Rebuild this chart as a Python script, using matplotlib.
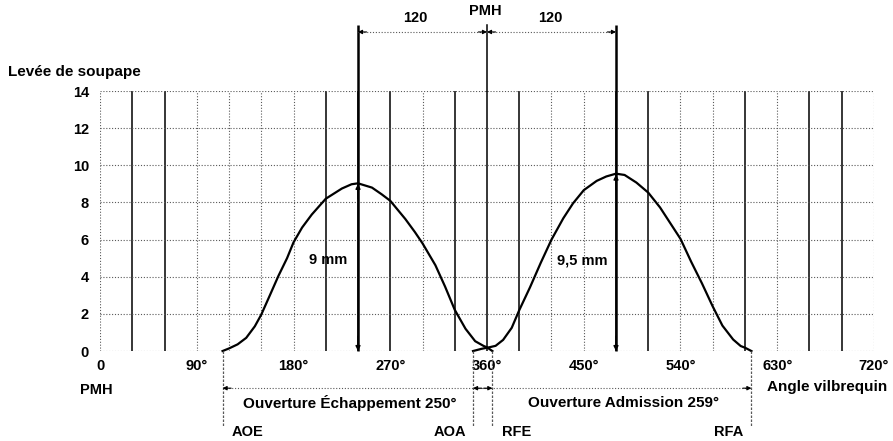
import matplotlib.pyplot as plt
import numpy as np

plt.rcParams["font.family"] = ["Liberation Sans", "DejaVu Sans"]

# lift curves (crank angle in degrees, lift in mm)
exhaust_angle = [114, 120, 128, 136, 144, 150, 158, 166, 174, 180, 188, 197, 210, 225, 234, 240,
                 253, 262, 270, 284, 293, 300, 312, 321, 330, 340, 349, 357, 360, 365]
exhaust_lift = [0, 0.14, 0.36, 0.71, 1.33, 1.96, 3.0, 4.05, 5.0, 5.85, 6.65, 7.35, 8.2, 8.75, 8.98, 9.03,
                8.8, 8.44, 8.09, 7.11, 6.4, 5.8, 4.62, 3.47, 2.22, 1.2, 0.53, 0.27, 0.2, 0]
intake_angle = [347, 355, 362, 368, 375, 383, 390, 400, 410, 420, 431, 440, 450, 462, 471, 480,
                488, 499, 510, 521, 530, 540, 550, 560, 570, 579, 589, 596, 600, 606]
intake_lift = [0, 0.12, 0.2, 0.28, 0.6, 1.25, 2.2, 3.43, 4.75, 6.0, 7.15, 7.95, 8.66, 9.16, 9.4, 9.55,
               9.48, 9.07, 8.53, 7.73, 6.93, 6.04, 4.8, 3.64, 2.4, 1.37, 0.62, 0.27, 0.18, 0]

# timing events
event_names = ["AOE", "AOA", "RFE", "RFA"]
event_angles = [114, 347, 365, 606]
peak_angles = [240, 480]
peak_lifts = [9, 9.5]
peak_labels = ["9 mm", "9,5 mm"]
opening_labels = ["Ouverture Échappement 250°", "Ouverture Admission 259°"]

x_ticks = [0, 90, 180, 270, 360, 450, 540, 630, 720]
x_tick_labels = ["0", "90°", "180°", "270°", "360°", "450°", "540°", "630°", "720°"]
y_ticks = [0, 2, 4, 6, 8, 10, 12, 14]

# vertical grid lines that came out solid on the original sheet
SOLID_LINES = [30, 60, 210, 240, 270, 330, 360, 390, 480, 510, 600, 660, 690]
DOT = (0, (1, 1.6))
GREY = "0.35"
FS = 10.5


def dim_arrow(ax, x0, x1, y):
    ax.plot([x0, x1], [y, y], ls=DOT, lw=0.8, color=GREY, clip_on=False)
    for tip, tail in ((x0, x0 + 8), (x1, x1 - 8)):
        ax.annotate("", xy=(tip, y), xytext=(tail, y), annotation_clip=False,
                    arrowprops=dict(arrowstyle="-|>", color="k", lw=0.8, mutation_scale=6,
                                    shrinkA=0, shrinkB=0))


def main():
    fig = plt.figure(figsize=(8.93, 4.41), dpi=100)
    ax = fig.add_axes([0.112, 0.204, 0.8667, 0.5896])
    ax.set_xlim(0, 720)
    ax.set_ylim(0, 14)
    for side in ax.spines.values():
        side.set_visible(False)

    # grid
    for a in np.arange(0, 721, 30):
        if a in SOLID_LINES:
            ax.plot([a, a], [0, 14], color="k", lw=1.1, solid_capstyle="butt")
        else:
            ax.plot([a, a], [0, 14], color=GREY, lw=0.8, ls=DOT)
    for v in y_ticks:
        ax.plot([0, 720], [v, v], color=GREY, lw=0.8, ls=DOT)

    ax.set_xticks(x_ticks, x_tick_labels)
    ax.set_yticks(y_ticks, [str(v) for v in y_ticks])
    ax.tick_params(length=0, labelsize=FS)
    ax.tick_params(axis="x", pad=6)
    ax.tick_params(axis="y", pad=8)
    for lab in ax.get_xticklabels() + ax.get_yticklabels():
        lab.set_fontweight("bold")

    # lift curves
    ax.plot(exhaust_angle, exhaust_lift, color="k", lw=1.6, clip_on=False)
    ax.plot(intake_angle, intake_lift, color="k", lw=1.6, clip_on=False)

    # peak lift markers, extended up to the 120° dimensions
    top = 17.55
    for a, h, txt, tx in zip(peak_angles, peak_lifts, peak_labels, [212, 449]):
        ax.plot([a, a], [0, top], color="k", lw=1.8, clip_on=False, solid_capstyle="butt")
        ax.annotate("", xy=(a, h), xytext=(a, h - 0.8),
                    arrowprops=dict(arrowstyle="-|>", color="k", lw=1, mutation_scale=7,
                                    shrinkA=0, shrinkB=0))
        ax.annotate("", xy=(a, 0), xytext=(a, 0.8),
                    arrowprops=dict(arrowstyle="-|>", color="k", lw=1, mutation_scale=7,
                                    shrinkA=0, shrinkB=0))
        ax.text(tx, 4.9, txt, ha="center", va="center", fontsize=FS, fontweight="bold")
    ax.plot([360, 360], [14, top], color="k", lw=1.1, clip_on=False)

    dim_arrow(ax, 240, 360, 17.18)
    dim_arrow(ax, 360, 480, 17.18)
    ax.text(293, 17.95, "120", ha="center", va="center", fontsize=FS, fontweight="bold")
    ax.text(419, 17.95, "120", ha="center", va="center", fontsize=FS, fontweight="bold")
    ax.text(358, 18.3, "PMH", ha="center", va="center", fontsize=FS, fontweight="bold")

    # axis titles
    ax.text(-86, 15.0, "Levée de soupape", ha="left", va="center", fontsize=11, fontweight="bold")
    ax.text(-3, -2.1, "PMH", ha="center", va="center", fontsize=FS, fontweight="bold")
    ax.text(676, -1.95, "Angle vilbrequin", ha="center", va="center", fontsize=11, fontweight="bold")

    # opening durations below the axis
    for a in event_angles:
        ax.plot([a, a], [0, -4.1], color=GREY, lw=0.9, ls=(0, (2, 1.2)), clip_on=False)
    dim_arrow(ax, event_angles[0], event_angles[2], -2.0)
    dim_arrow(ax, event_angles[1], event_angles[3], -2.0)
    ax.text(232, -2.8, opening_labels[0], ha="center", va="center", fontsize=11, fontweight="bold")
    ax.text(487, -2.8, opening_labels[1], ha="center", va="center", fontsize=11, fontweight="bold")
    for name, tx in zip(event_names, [137, 326, 388, 585]):
        ax.text(tx, -4.36, name, ha="center", va="center", fontsize=FS, fontweight="bold")

    fig.savefig("out.png", dpi=100)


if __name__ == "__main__":
    main()
